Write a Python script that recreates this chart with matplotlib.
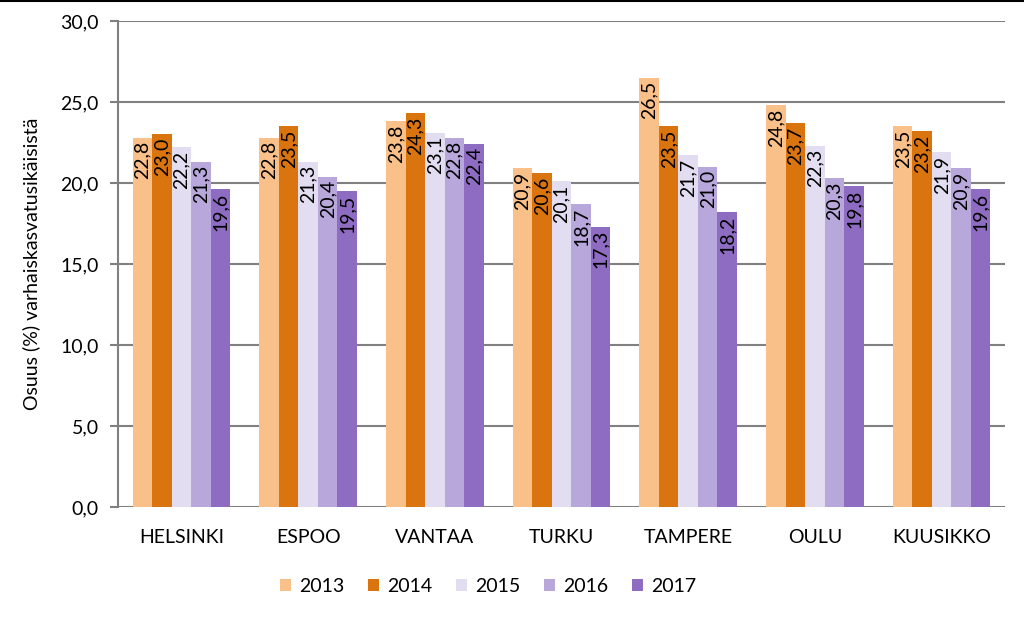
import matplotlib.pyplot as plt
from matplotlib.lines import Line2D
import numpy as np

plt.rcParams['font.family'] = ['Lato', 'DejaVu Sans']

cities = ['HELSINKI', 'ESPOO', 'VANTAA', 'TURKU', 'TAMPERE', 'OULU', 'KUUSIKKO']
years = ['2013', '2014', '2015', '2016', '2017']
v2013 = [22.8, 22.8, 23.8, 20.9, 26.5, 24.8, 23.5]
v2014 = [23.0, 23.5, 24.3, 20.6, 23.5, 23.7, 23.2]
v2015 = [22.2, 21.3, 23.1, 20.1, 21.7, 22.3, 21.9]
v2016 = [21.3, 20.4, 22.8, 18.7, 21.0, 20.3, 20.9]
v2017 = [19.6, 19.5, 22.4, 17.3, 18.2, 19.8, 19.6]
series = [v2013, v2014, v2015, v2016, v2017]
colors = ['#F9C08A', '#D9740E', '#E2DDF0', '#B7A7DA', '#8E6CC2']

fig = plt.figure(figsize=(10.24, 6.17), dpi=100)
ax = fig.add_axes([118/1024, 1 - 507/617, 887/1024, 486/617])

x = np.arange(len(cities))
w = 0.154
for i, (vals, c) in enumerate(zip(series, colors)):
    pos = x + (i - 2) * w
    ax.bar(pos, vals, width=w, color=c, label=years[i], zorder=3)
    for p, v in zip(pos, vals):
        ax.text(p, v - 0.2, f'{v:.1f}'.replace('.', ','), rotation=90,
                ha='center', va='top', fontsize=14, zorder=4)

ax.set_xlim(-0.5, len(cities) - 0.5)
ax.set_ylim(0, 30)
ax.set_yticks(np.arange(0, 31, 5))
ax.set_yticklabels([f'{t:.1f}'.replace('.', ',') for t in np.arange(0, 31, 5)], fontsize=14)
ax.set_xticks(x)
ax.set_xticklabels(cities, fontsize=14)
ax.tick_params(axis='x', length=0, pad=16)
ax.tick_params(axis='y', length=6, color='#808080', width=1.5, pad=8)
ax.grid(axis='y', color='#808080', linewidth=1.5, zorder=0)
for s in ['top', 'right', 'bottom']:
    ax.spines[s].set_visible(False)
ax.spines['left'].set_color('#808080')
ax.spines['left'].set_linewidth(1.5)
ax.set_ylabel('Osuus (%) varhaiskasvatusikäisistä', fontsize=14, labelpad=14)

ax.legend(loc='upper center', bbox_to_anchor=(0.417, -0.11), ncol=5, frameon=False,
          fontsize=14, handlelength=0.6, handleheight=0.6, columnspacing=1.2,
          handletextpad=0.4)

fig.add_artist(Line2D([0, 1], [0.999, 0.999], color='black', linewidth=1.5,
                      transform=fig.transFigure))

fig.savefig('out.png', dpi=100)
